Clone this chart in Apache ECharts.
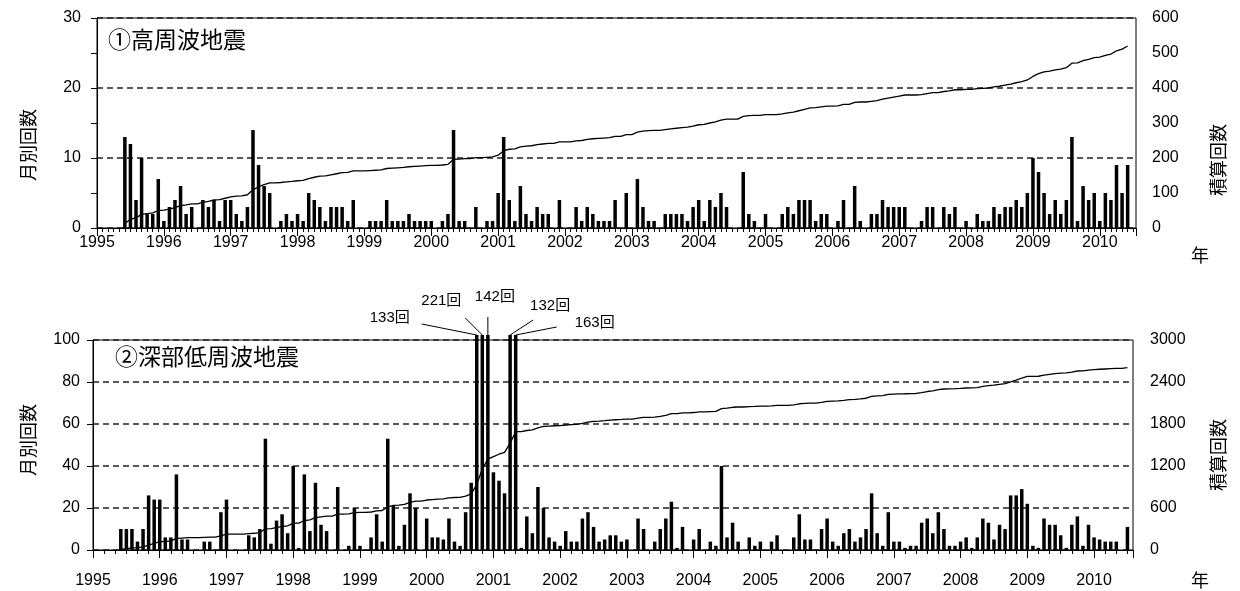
<!DOCTYPE html>
<html><head><meta charset="utf-8">
<script src="https://cdn.jsdelivr.net/npm/echarts@6/dist/echarts.min.js"></script>
<style>html,body{margin:0;padding:0;background:#fff}#c{width:1240px;height:591px}</style>
</head><body><div id="c"></div>
<script>
// ---- data ----
const baseYear = 1995;           // x axis starts Jan 1995 (month index 0)
const firstMonthIndex = 5;       // first bar: June 1995
const hfTitle = '①高周波地震';
const lfTitle = '②深部低周波地震';
// ① high-frequency earthquakes, monthly counts from June 1995
const hfMonthly = [
 13,12,4,10,2,2,7,1,3,4,6,2,3,0,4,3,4,1,4,4,2,1,3,14,9,6,5,0,1,2,1,2,1,5,4,3,1,3,3,3,1,4,
 0,0,1,1,1,4,1,1,1,2,1,1,1,1,0,1,2,14,1,1,0,3,0,1,1,5,13,4,1,6,2,1,3,2,2,0,4,0,0,3,1,3,2,1,1,1,4,
 0,5,0,7,3,1,1,0,2,2,2,2,1,3,4,1,4,3,5,3,0,0,8,2,1,0,2,0,0,2,3,2,4,4,4,1,2,2,0,1,4,0,6,1,0,2,2,
 4,3,3,3,3,0,0,1,3,3,0,3,2,3,0,1,0,2,1,1,3,2,3,3,4,3,5,10,8,5,2,4,2,4,13,1,6,4,5,1,5,4,9,5,9
];
// ② deep low-frequency earthquakes, monthly counts from June 1995
const lfMonthly = [
 10,10,10,4,10,26,24,24,6,6,36,5,5,0,0,4,4,0,18,24,0,0,0,7,6,10,53,3,14,17,8,40,1,36,9,32,12,9,0,30,0,2,20,
 2,0,6,17,4,53,21,2,12,27,20,0,15,6,6,5,15,4,2,18,32,133,221,142,37,33,27,132,163,1,16,8,30,20,6,4,2,9,4,4,15,18,11,4,5,7,7,
 4,5,0,15,10,0,4,10,15,23,1,11,0,5,10,0,4,2,40,6,13,4,0,6,2,4,0,4,7,0,0,6,17,5,5,0,10,15,4,2,8,10,4,6,10,27,8,
 2,18,4,4,1,2,2,13,15,8,18,10,2,2,4,6,1,6,15,13,5,12,10,26,26,29,22,2,1,15,12,12,7,1,12,16,2,12,6,5,4,4,4,0,11
];
const hfLeftTicks = [0, 10, 20, 30];
const hfRightTicks = [0, 100, 200, 300, 400, 500, 600];
const lfLeftTicks = [0, 20, 40, 60, 80, 100];
const lfRightTicks = [0, 600, 1200, 1800, 2400, 3000];
const leftName = '月別回数';
const rightName = '積算回数';
const xName = '年';

// ---- derived (running totals = 積算回数) ----
function pairs(arr) { return arr.map((v, k) => [firstMonthIndex + k, v]); }
function cumulative(arr) { let s = 0; return arr.map((v, k) => { s += v; return [firstMonthIndex + k, s]; }); }

const FONT = '"Liberation Sans", "Noto Sans CJK JP", sans-serif';
const CJK = '"Noto Sans CJK JP", sans-serif';
const chart = echarts.init(document.getElementById('c'), null, { renderer: 'canvas' });

function xAxes(grid, max, minorInterval, minorLen, majorLen, labelMargin) {
  return [
    { gridIndex: grid, type: 'value', position: 'bottom', min: 0, max: max, interval: minorInterval,
      axisLine: { show: true, lineStyle: { color: '#000', width: 1 } },
      axisTick: { show: true, length: minorLen, lineStyle: { color: '#000', width: 1 } },
      axisLabel: { show: false }, splitLine: { show: false } },
    { gridIndex: grid, type: 'value', position: 'bottom', min: 0, max: max, interval: 12,
      axisLine: { show: false },
      axisTick: { show: true, length: majorLen, lineStyle: { color: '#000', width: 1 } },
      axisLabel: { show: true, margin: labelMargin, color: '#000', fontSize: 16, fontFamily: FONT,
        formatter: v => (v % 12 === 0 ? String(baseYear + v / 12) : '') },
      splitLine: { show: false } }
  ];
}
function yAxis(grid, ticks, side, split, inside, margin) {
  return { gridIndex: grid, type: 'value', position: side, min: ticks[0], max: ticks[ticks.length - 1],
    interval: ticks[1] - ticks[0],
    axisLine: { show: true, lineStyle: { color: '#000', width: 1 } },
    axisTick: { show: true, inside: inside, length: 6, lineStyle: { color: '#000' } },
    axisLabel: { color: '#000', fontSize: 16, fontFamily: FONT, margin: margin, formatter: v => String(v) },
    splitLine: { show: split, lineStyle: { color: '#222', width: 1.5, type: [6, 4] } } };
}

const option = {
  animation: false,
  backgroundColor: '#fff',
  grid: [
    { left: 97, right: 104, top: 18, height: 210, show: true, borderColor: '#000', borderWidth: 1, containLabel: false },
    { left: 93, right: 107, top: 340, height: 210, show: true, borderColor: '#000', borderWidth: 1, containLabel: false }
  ],
  xAxis: [].concat(xAxes(0, 186.5, 1, 4, 8, 7), xAxes(1, 187, 2, 4, 8, 23)),
  yAxis: [
    yAxis(0, hfLeftTicks, 'left', true, false, 16),
    yAxis(0, hfRightTicks, 'right', false, true, 16),
    yAxis(1, lfLeftTicks, 'left', true, false, 13),
    yAxis(1, lfRightTicks, 'right', false, true, 17)
  ],
  series: [
    { type: 'bar', xAxisIndex: 0, yAxisIndex: 0, data: pairs(hfMonthly), barWidth: 3.5,
      itemStyle: { color: '#000' }, z: 2 },
    { type: 'line', xAxisIndex: 0, yAxisIndex: 1, data: cumulative(hfMonthly), showSymbol: false,
      lineStyle: { color: '#000', width: 1.3 }, z: 3 },
    { type: 'bar', xAxisIndex: 2, yAxisIndex: 2, data: pairs(lfMonthly), barWidth: 3.5,
      itemStyle: { color: '#000' }, z: 2 },
    { type: 'line', xAxisIndex: 2, yAxisIndex: 3, data: cumulative(lfMonthly), showSymbol: false,
      lineStyle: { color: '#000', width: 1.3 }, z: 3 }
  ]
};
chart.setOption(option);

// ---- text & annotations ----
const lfMax = lfLeftTicks[lfLeftTicks.length - 1];
// label placement offsets (px) relative to clipped bar top, in order of appearance
const noteLayout = [
  { lx: -87, ly: -22, ex: -55, ey: -16 },
  { lx: -41, ly: -39, ex: -17, ey: -22 },
  { lx: 7,   ly: -43, ex: 0,   ey: -23 },
  { lx: 40,  ly: -34, ex: 23,  ey: -20 },
  { lx: 79,  ly: -17, ex: 41,  ey: -13 }
];
const g = [];
function txt(x, y, text, size, rot, align, font) {
  g.push({ type: 'text', x: x, y: y, rotation: rot || 0, z: 10,
    style: { text: text, fill: '#000', fontSize: size, fontFamily: font || CJK,
      align: align || 'center', verticalAlign: 'middle' } });
}
txt(108, 39, hfTitle, 23, 0, 'left');
txt(115, 356, lfTitle, 23, 0, 'left');
txt(28, 145, leftName, 18, Math.PI / 2);
txt(28, 440, leftName, 18, Math.PI / 2);
txt(1218, 160, rightName, 18, Math.PI / 2);
txt(1218, 455, rightName, 18, Math.PI / 2);
txt(1200, 255, xName, 18, 0);
txt(1200, 580, xName, 18, 0);

let n = 0;
lfMonthly.forEach((v, k) => {
  if (v > lfMax) {
    const p = chart.convertToPixel({ xAxisIndex: 2, yAxisIndex: 2 }, [firstMonthIndex + k, lfMax]);
    const L = noteLayout[n++] || { lx: 0, ly: -30, ex: 0, ey: -15 };
    g.push({ type: 'rect', z: 9, shape: { x: p[0] - 1.75, y: p[1] - 5, width: 3.5, height: 5 }, style: { fill: '#000' } });
    g.push({ type: 'line', z: 9, shape: { x1: p[0], y1: p[1] - 5, x2: p[0] + L.ex, y2: p[1] + L.ey },
      style: { stroke: '#000', lineWidth: 1 } });
    txt(p[0] + L.lx, p[1] + L.ly, v + '回', 15, 0, 'center', FONT);
  }
});
chart.setOption({ graphic: g });
</script>
</body></html>
